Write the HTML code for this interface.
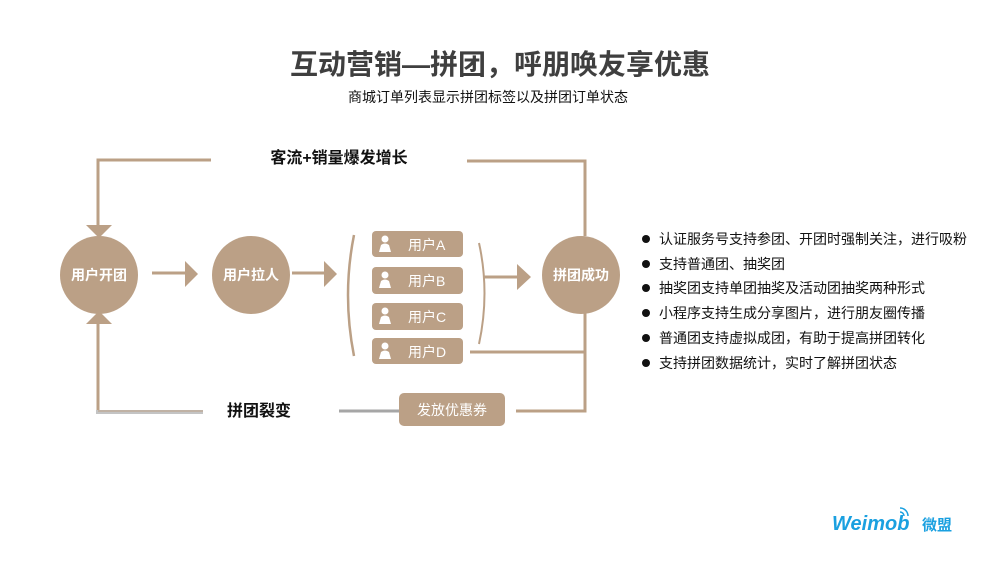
<!DOCTYPE html>
<html><head><meta charset="utf-8"><style>
html,body{margin:0;padding:0;background:#fff;}
svg{display:block;}
text{font-family:"Liberation Sans","Noto Sans CJK SC",sans-serif;}
</style></head><body>
<svg width="1000" height="563" viewBox="0 0 1000 563" xmlns="http://www.w3.org/2000/svg">
<rect width="1000" height="563" fill="#fff"/>
<text x="500" y="74" text-anchor="middle" font-size="28" font-weight="bold" fill="#3f3f3f">互动营销—拼团，呼朋唤友享优惠</text>
<text x="488" y="102" text-anchor="middle" font-size="14" fill="#111">商城订单列表显示拼团标签以及拼团订单状态</text>

<g stroke="#bba086" stroke-width="3" fill="none">
<polyline points="211,160 98,160 98,228"/>
<polyline points="467,161 585,161 585,236"/>
<polyline points="98,323 98,412 203,412"/>
<polyline points="470,352 585,352"/>
<polyline points="516,411 585,411 585,312"/>
<line x1="152" y1="273" x2="188" y2="273"/>
<line x1="292" y1="273" x2="326" y2="273"/>
<line x1="484" y1="277" x2="519" y2="277"/>
<path d="M354,235 Q342,295 354,356" stroke-width="2.5"/>
<path d="M479,243 Q490,293 479,344" stroke-width="2"/>
</g>
<line x1="96" y1="412" x2="203" y2="412" stroke="#c4c4c4" stroke-width="4"/>
<line x1="98" y1="411" x2="203" y2="411" stroke="#bba086" stroke-width="1"/>
<line x1="339" y1="411" x2="400" y2="411" stroke="#a6a6a6" stroke-width="3"/>
<g fill="#bba086">
<polygon points="86,225 112,225 99,238"/>
<polygon points="86,324 112,324 99,311"/>
<polygon points="185,261 198,274 185,287"/>
<polygon points="324,261 337,274 324,287"/>
<polygon points="517,264 531,277 517,290"/>
<circle cx="99" cy="275" r="39"/>
<circle cx="251" cy="275" r="39"/>
<circle cx="581" cy="275" r="39"/>
<rect x="372" y="231" width="91" height="26" rx="4"/>
<rect x="372" y="267" width="91" height="27" rx="4"/>
<rect x="372" y="303" width="91" height="27" rx="4"/>
<rect x="372" y="338" width="91" height="26" rx="4"/>
<rect x="399" y="393" width="106" height="33" rx="5"/>
</g>
<g fill="#fff" font-size="14" font-weight="bold" text-anchor="middle">
<text x="99" y="280">用户开团</text>
<text x="251" y="280">用户拉人</text>
<text x="581" y="280">拼团成功</text>
</g>
<g fill="#fff">
<g transform="translate(385,234)"><circle cx="0" cy="5" r="3.5"/><path d="M-6,18 L-4,11 Q0,8 4,11 L6,18 Z"/></g>
<g transform="translate(385,270)"><circle cx="0" cy="5" r="3.5"/><path d="M-6,18 L-4,11 Q0,8 4,11 L6,18 Z"/></g>
<g transform="translate(385,306)"><circle cx="0" cy="5" r="3.5"/><path d="M-6,18 L-4,11 Q0,8 4,11 L6,18 Z"/></g>
<g transform="translate(385,341)"><circle cx="0" cy="5" r="3.5"/><path d="M-6,18 L-4,11 Q0,8 4,11 L6,18 Z"/></g>
</g>
<g fill="#fff" font-size="14">
<text x="408" y="250">用户A</text>
<text x="408" y="286">用户B</text>
<text x="408" y="322">用户C</text>
<text x="408" y="357">用户D</text>
<text x="452" y="415" text-anchor="middle">发放优惠券</text>
</g>
<text x="339" y="163" text-anchor="middle" font-size="16" font-weight="bold" fill="#111">客流+销量爆发增长</text>
<text x="259" y="416" text-anchor="middle" font-size="16" font-weight="bold" fill="#111">拼团裂变</text>
<g font-size="14" fill="#111">
<circle cx="646" cy="239" r="4"/><text x="659" y="244">认证服务号支持参团、开团时强制关注，进行吸粉</text>
<circle cx="646" cy="264" r="4"/><text x="659" y="269">支持普通团、抽奖团</text>
<circle cx="646" cy="288" r="4"/><text x="659" y="293">抽奖团支持单团抽奖及活动团抽奖两种形式</text>
<circle cx="646" cy="313" r="4"/><text x="659" y="318">小程序支持生成分享图片，进行朋友圈传播</text>
<circle cx="646" cy="338" r="4"/><text x="659" y="343">普通团支持虚拟成团，有助于提高拼团转化</text>
<circle cx="646" cy="363" r="4"/><text x="659" y="368">支持拼团数据统计，实时了解拼团状态</text>
</g>
<text x="832" y="530" font-size="20" font-weight="bold" font-style="italic" fill="#1aa0e0">Weimob</text>
<text x="922" y="530" font-size="15" font-weight="bold" fill="#1aa0e0">微盟</text>
<g stroke="#1aa0e0" stroke-width="1.5" fill="none">
<path d="M900,512 a4,4 0 0 1 4,4"/><path d="M900,508 a8,8 0 0 1 8,8"/>
</g>
</svg>
</body></html>
